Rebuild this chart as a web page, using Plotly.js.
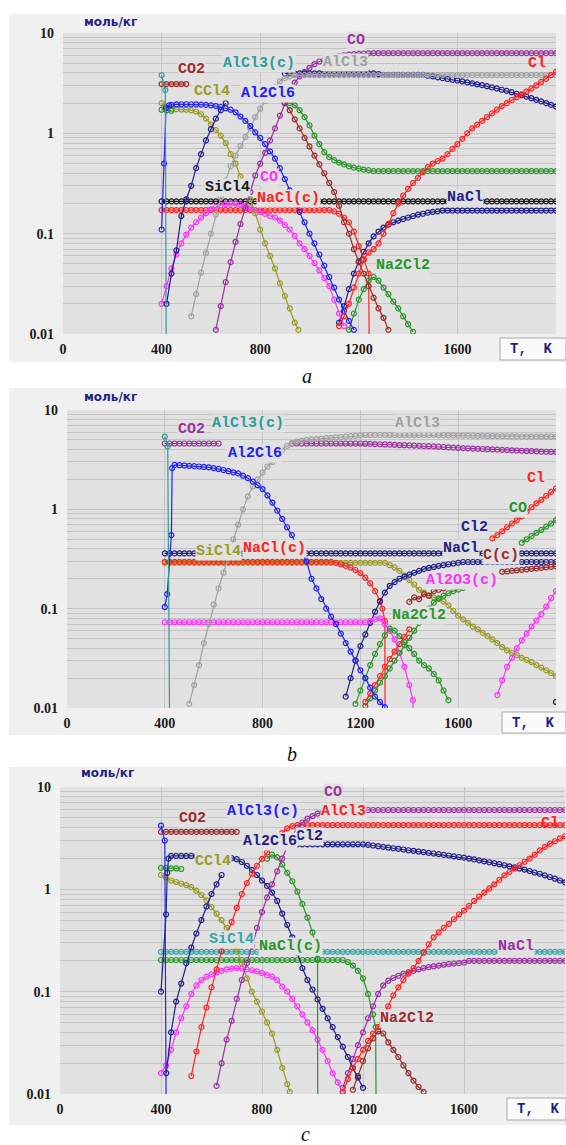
<!DOCTYPE html>
<html><head><meta charset="utf-8">
<script src="https://cdn.plot.ly/plotly-3.0.1.min.js"></script>
<style>html,body{margin:0;padding:0;background:#fff;}#chart{width:566px;height:1145px;}</style>
</head><body><div id="chart"></div>
<script>
// ---------- shared temperature grid (K) and axis ticks ----------
const TG = [400,420,440,460,480,500,520,540,560,580,
600,620,640,660,680,700,720,740,760,780,
800,820,840,860,880,900,920,940,960,980,
1000,1020,1040,1060,1080,1100,1120,1140,1160,1180,
1200,1220,1240,1260,1280,1300,1320,1340,1360,1380,
1400,1420,1440,1460,1480,1500,1520,1540,1560,1580,
1600,1620,1640,1660,1680,1700,1720,1740,1760,1780,
1800,1820,1840,1860,1880,1900,1920,1940,1960,1980,
2000];
const X_TICKS = [0,400,800,1200,1600];
const X_TEXT = ['0','400','800','1200','1600'];
const Y_TICKS = [0.01,0.02,0.03,0.04,0.05,0.06,0.07,0.08,0.09,0.1,0.2,0.3,0.4,0.5,0.6,0.7,0.8,0.9,1,2,3,4,5,6,7,8,9,10];
const Y_TEXT = ['0.01','','','','','','','','','0.1','','','','','','','','','1','','','','','','','','','10'];
const PANEL_TAGS = ['a','b','c'];
const UNIT = 'моль/кг';
const XUNIT = 'T,  K';

// ---------- panel a (mol/kg vs T) ----------
const a_CO2 = [3.1,3.1,3.1,3.1,3.1,3.1];
const a_CO2b = [2.0,1.7,1.38,1.12,0.9,0.74,0.6,0.49,0.4,0.32,0.26,0.19,0.13,0.1,0.07,0.052,0.04,0.03,0.023,0.018,0.0145,0.011];
const a_CO = [0.011,0.019,0.033,0.052,0.083,0.125,0.18,0.26,0.38,0.5,
0.64,0.85,1.12,1.5,2.0,2.6,3.2,3.7,4.1,4.5,
4.9,5.2,5.4,5.6,5.75,5.9,6.0,6.1,6.15,6.2,
6.25,6.27,
6.3,6.3,6.3,6.3,6.3,6.3,6.3,6.3,6.3,6.3,
6.3,6.3,6.3,6.3,6.3,6.3,6.3,6.3,6.3,6.3,
6.3,6.3,6.3,6.3,6.3,6.3,6.3,6.3,6.3,6.3,
6.3,6.3,6.3,6.3,6.3,6.3,6.3,6.3];
const a_Cl2rise = [0.02,0.04,0.068,0.15,0.22,0.3,0.45,0.62,0.85,1.1,1.4,1.7,2.0];
const a_Cl2top = [3.95,3.95,3.95,3.95,3.95,3.95,3.95,3.95,3.95,3.95,
3.95,3.95,3.95,3.95,3.95,3.95,3.95,3.95,3.95,3.9,
3.82,3.82,3.82,3.82,3.82,3.82,3.82,3.82,3.82,
3.75,3.7,3.62,3.55,3.48,3.42,3.36,3.3,3.22,3.15,
3.08,3.02,2.95,2.87,2.8,2.72,2.65,2.57,2.48,2.4,
2.32,2.24,2.16,2.08,2.0,1.92,1.85];
const a_AlCl3 = [0.015,0.025,0.041,0.064,0.1,0.155,0.23,0.34,0.47,0.6,
0.75,0.92,1.12,1.45,1.75,2.1,2.5,2.9,3.3,3.55,3.7,3.78,
3.8,3.8,3.8,3.8,3.8,3.8,3.8,3.8,3.8,3.8,
3.8,3.8,3.8,3.8,3.8,3.8,3.8,3.8,3.8,3.8,
3.8,3.8,3.8,3.8,3.8,3.8,3.8,3.8,3.8,3.8,
3.8,3.8,3.8,3.8,3.8,3.8,3.8,3.8,3.8,3.8,
3.8,3.8,3.8,3.8,3.8,3.8,3.8,3.8,3.8,3.8,
3.8,3.8,3.8];
const a_AlCl3c_pts = [[400,3.8],[415,2.7],[420,0.001]];
const a_Al2Cl6_pre = [[400,0.11],[410,0.5],[418,1.8],[430,1.9]];
const a_Al2Cl6 = [1.92,1.94,1.95,1.95,1.95,1.94,1.93,1.92,1.9,1.87,
1.83,1.78,1.72,1.62,1.47,1.33,1.18,1.02,0.9,0.78,
0.66,0.56,0.45,0.35,0.27,0.21,0.165,0.13,0.1,0.08,
0.062,0.048,0.037,0.029,0.022,0.017,0.0135,0.011];
const a_CCl4_pre = [[400,2.0],[410,1.85]];
const a_CCl4 = [1.78,1.75,1.74,1.73,1.72,1.7,1.65,1.55,1.4,1.22,
1.08,0.95,0.8,0.62,0.5,0.37,0.29,0.22,0.16,0.11,
0.08,0.06,0.045,0.032,0.024,0.018,0.013];
const a_CCl4_post = [[955,0.011]];
const a_greenLow = [1.72,1.7,1.68];
const a_green = [2.0,2.0,1.9,1.7,1.45,1.2,0.95,0.78,0.65,0.58,
0.54,0.51,0.49,0.47,0.455,0.445,0.435,0.43,
0.42,0.42,0.42,0.42,0.42,0.42,0.42,0.42,0.42,0.42,
0.42,0.42,0.42,0.42,0.42,0.42,0.42,0.42,0.42,0.42,
0.42,0.42,0.42,0.42,0.42,0.42,0.42,0.42,0.42,0.42,
0.42,0.42,0.42,0.42,0.42,0.42,0.42,0.42];
const a_SiCl4 = [0.21,0.21,0.21,0.21,0.21,0.21,0.21,0.21,0.21,0.21,
0.21,0.21,0.21,0.21,0.21,0.21,0.21,0.21,0.21,0.21,
0.21,0.21,0.21,0.21,0.21,0.21,0.21,0.21,0.21,0.21,
0.21,0.21,0.21,0.21,0.21,0.21,0.21,0.21,0.21,0.21,
0.21,0.21,0.21,0.21,0.21,0.21,0.21,0.21,0.21,0.21,
0.21,0.21,0.21,0.21,0.21,0.21,0.21,0.21,0.21,0.21,
0.21,0.21,0.21,0.21,0.21,0.21,0.21,0.21,0.21,0.21,
0.21,0.21,0.21,0.21,0.21,0.21,0.21,0.21,0.21,0.21,
0.21];
const a_NaClc = [0.172,0.172,0.172,0.172,0.172,0.172,0.172,0.172,0.172,0.172,
0.172,0.172,0.172,0.172,0.172,0.172,0.172,0.172,0.172,0.172,
0.172,0.172,0.172,0.172,0.172,0.172,0.172,0.172,0.172,0.172,
0.172,0.172,0.172,0.172,0.172,
0.167,0.158,0.145,0.13,0.105,0.075,0.055,0.04];
const a_NaClc_post = [[1245,0.001]];
const a_Cl = [0.012,0.015,0.02,0.029,0.04,0.055,0.065,0.07,0.08,0.1,
0.125,0.16,0.2,0.24,0.28,0.32,0.36,0.41,0.46,0.5,
0.53,0.56,0.62,0.7,0.78,0.88,1.0,1.12,1.22,1.33,
1.45,1.58,1.72,1.87,2.0,2.15,2.3,2.45,2.6,2.8,
3.0,3.25,3.5,3.8,4.1];
const a_NaCl = [0.013,0.019,0.028,0.04,0.053,0.066,0.08,0.094,0.105,0.115,
0.123,0.13,0.135,0.14,0.145,0.15,0.155,0.158,0.162,0.165,0.167,
0.17,0.17,0.17,0.17,0.17,0.17,0.17,0.17,0.17,0.17,
0.17,0.17,0.17,0.17,0.17,0.17,0.17,0.17,0.17,0.17,
0.17,0.17,0.17,0.17];
const a_mag = [0.02,0.03,0.045,0.062,0.08,0.098,0.115,0.13,0.145,0.16,
0.175,0.185,0.192,0.197,0.2,0.2,0.195,0.19,0.18,0.172,
0.165,0.158,0.15,0.145,0.135,0.122,0.11,0.095,0.08,0.07,
0.06,0.051,0.043,0.036,0.03,0.022,0.016,0.012];
const a_Na2Cl2 = [0.011,0.016,0.022,0.028,0.034,0.037,0.034,0.029,0.025,0.021,0.018,0.015,0.0125,0.0105];

// ---------- panel b ----------
const b_CO2 = [4.6,4.6,4.6,4.6,4.6,4.6,4.6,4.6,4.6,4.6,4.6,4.6];
const b_CO2b = [4.6,4.6,4.6,4.6,4.6,4.6,4.6,4.6,4.6,4.6,4.6,4.6,4.6,4.6,4.6,
4.58,4.56,4.54,4.52,4.5,4.48,4.46,4.44,4.42,4.4,
4.38,4.36,4.34,4.32,4.3,4.27,4.24,4.21,4.18,4.15,
4.13,4.11,4.09,4.07,4.05,4.03,4.01,3.99,3.97,3.95,
3.93,3.91,3.89,3.87,3.85,3.83,3.81,3.8,3.79,3.78];
const b_AlCl3c_pts = [[400,5.4],[412,4.3],[422,0.001]];
const b_AlCl3 = [0.011,0.017,0.027,0.045,0.07,0.11,0.16,0.23,0.34,0.5,
0.7,1.0,1.35,1.7,2.0,2.35,2.7,3.0,3.4,3.95,
4.35,4.65,4.8,4.9,5.0,5.05,5.1,5.15,5.2,5.25,
5.3,5.35,5.4,5.45,5.5,5.55,
5.6,5.6,5.6,5.6,5.6,5.6,5.6,5.6,5.6,5.6,5.6,5.6,5.6,5.6,5.6,
5.58,5.57,5.56,5.55,5.54,5.53,5.52,5.51,5.5,5.49,
5.48,5.47,5.46,5.45,5.44,5.43,5.42,5.41,5.41,5.4,
5.4,5.4,5.4,5.4,5.4];
const b_Al2Cl6_pre = [[400,0.104],[410,0.14],[427,0.55],[430,2.6]];
const b_Al2Cl6 = [2.8,2.78,2.76,2.74,2.72,2.7,2.67,2.65,2.6,2.55,
2.49,2.42,2.36,2.3,2.18,2.06,1.9,1.75,1.6,1.38,
1.17,0.97,0.8,0.66,0.55,0.45,0.37,0.3,0.2,0.16,
0.125,0.1,0.083,0.07,0.056,0.045,0.037,0.03,0.024,0.02,
0.016,0.013,0.0115,0.0102];
const b_NaClFlat = [0.36,0.36,0.36,0.36,0.36,0.36,0.36,0.36,0.36,0.36,
0.36,0.36,0.36,0.36,0.36,0.36,0.36,0.36,0.36,0.36,
0.36,0.36,0.36,0.36,0.36,0.36,0.36,0.36,0.36,0.36,
0.36,0.36,0.36,0.36,0.36,0.36,0.36,0.36,0.36,0.36,
0.36,0.36,0.36,0.36,0.36,0.36,0.36,0.36,0.36,0.36,
0.36,0.36,0.36,0.36,0.36,0.36,0.36,0.36,0.36,0.36,
0.36,0.36,0.36,0.36,0.36,0.36,0.36,0.36,0.36,0.36,
0.36,0.36,0.36,0.36,0.36,0.36,0.36,0.36,0.36,0.36,
0.36];
const b_NaCl = [0.013,0.02,0.03,0.042,0.055,0.072,0.093,0.118,0.145,0.17,
0.185,0.2,0.21,0.22,0.23,0.24,0.25,0.257,0.263,0.27,
0.275,0.28,0.285,0.29,
0.295,0.295,0.295,0.295,0.295,0.295,0.295,0.295,0.295,0.295,
0.295,0.295,0.295,0.295,0.295,0.295,0.295,0.295,0.295,0.295];
const b_NaClc = [0.296,0.296,0.296,0.296,0.296,0.296,0.296,0.296,0.296,0.296,
0.296,0.296,0.296,0.296,0.296,0.296,0.296,0.296,0.296,0.296,
0.296,0.296,0.296,0.296,0.296,0.296,0.296,0.296,0.296,0.296,
0.296,0.296,0.296,0.296,0.296,
0.29,0.28,0.27,0.26,0.245,0.228,0.205,0.18,0.15,0.12];
const b_NaClc_post = [[1290,0.1],[1300,0.075],[1302,0.001]];
const b_SiCl4 = [0.289,0.289,0.289,0.289,0.289,0.289,0.289,0.289,0.289,0.289,
0.289,0.289,0.289,0.289,0.289,0.289,0.289,0.289,0.289,0.289,
0.289,0.289,0.289,0.289,0.289,0.289,0.289,0.289,0.289,0.289,
0.289,0.289,0.289,0.289,0.289,0.289,0.289,0.289,0.289,0.289,
0.289,0.289,0.289,0.289,0.289,0.289,
0.275,0.26,0.24,0.215,0.195,0.175,0.155,0.145,0.135,0.13,
0.125,0.118,0.108,0.095,0.085,0.078,0.072,0.066,0.062,0.057,
0.053,0.049,0.045,0.041,0.038,0.036,0.034,0.032,0.0305,0.029,
0.027,0.0255,0.024,0.0225,0.021];
const b_Al2O3c = [0.073,0.073,0.073,0.073,0.073,0.073,0.073,0.073,0.073,0.073,
0.073,0.073,0.073,0.073,0.073,0.073,0.073,0.073,0.073,0.073,
0.073,0.073,0.073,0.073,0.073,0.073,0.073,0.073,0.073,0.073,
0.073,0.073,0.073,0.073,0.073,0.073,0.073,0.073,0.073,0.073,
0.073,0.073,
0.075,0.078,0.08,0.07,0.06,0.049,0.036,0.026,0.017];
const b_Al2O3c_post = [[1415,0.012],[1420,0.001]];
const b_Al2O3c2 = [0.0135,0.019,0.026,0.032,0.04,0.048,0.056,0.066,0.076,0.088,0.105,0.128,0.15];
const b_Cl_low = [0.0115,0.014,0.017,0.021,0.026,0.031,0.037,0.044,0.052,0.062];
const b_Cl_high = [0.51,0.55,0.6,0.66,0.72,0.78,0.85,0.95,1.05,1.15,1.25,1.37,1.5,1.62];
const b_C_low = [0.117,0.13,0.125,0.14,0.135,0.15,0.155,0.16];
const b_C_high = [0.235,0.237,0.24,0.243,0.246,0.249,0.252,0.255,0.258,0.261,0.264,0.267];
const b_CO_low = [0.0105,0.0125,0.015,0.018,0.021,0.025,0.03,0.036,0.043,0.051,
0.06,0.072,0.086,0.1,0.115,0.127,0.135,0.143,0.15,0.156,0.162];
const b_CO_high = [0.46,0.5,0.54,0.58,0.62,0.67,0.72,0.78];
const b_Na2Cl2 = [0.011,0.015,0.02,0.027,0.035,0.044,0.054,0.063,0.06,0.053,
0.046,0.04,0.035,0.03,0.027,0.025,0.022,0.019,0.015,0.012];
const b_end_pts = [[2000,0.0115]];

// ---------- panel c ----------
const c_AlCl3c_pts = [[400,4.2],[415,3.0],[422,0.001]];
const c_CO2 = [3.65,3.65,3.65,3.65,3.65,3.65,3.65,3.65,3.65,3.65,3.65,3.65,3.65,3.65,3.65,3.65];
const c_Al2Cl6_pre = [[400,0.1],[420,0.57],[425,1.45],[430,2.0]];
const c_Al2Cl6 = [2.12,2.12,2.12,2.12,2.12,2.12,2.12,2.12,2.12,2.12,2.12,
2.08,2.02,1.97,1.85,1.7,1.55,1.38,1.22,1.08,0.93,
0.77,0.58,0.45,0.34,0.24,0.17,0.13,0.105,0.084,0.068,
0.055,0.045,0.036,0.029,0.023,0.018,0.0145,0.0115];
const c_Cl2_pre = [[421,0.016]];
const c_Cl2rise = [0.04,0.08,0.12,0.19,0.27,0.37,0.5,0.68,0.9,1.12,1.38];
const c_Cl2top = [2.75,2.75,2.75,2.75,2.75,2.75,2.75,2.75,2.75,2.75,2.75,2.75,2.75,2.75,2.75,
2.72,2.68,2.64,2.6,2.56,2.52,2.49,2.45,2.41,2.38,
2.34,2.31,2.27,2.24,2.21,2.17,2.14,2.1,2.07,2.04,
2.0,1.96,1.92,1.88,1.84,1.8,1.76,1.72,1.68,1.64,
1.6,1.56,1.51,1.46,1.42,1.37,1.32,1.27,1.22,1.17];
const c_AlCl3 = [0.015,0.026,0.045,0.07,0.11,0.165,0.25,0.36,0.48,0.66,
0.9,1.15,1.42,1.7,1.98,2.3,2.7,3.1,3.55,3.95,4.15,
4.25,4.25,4.25,4.25,4.25,4.25,4.25,4.25,4.25,4.25,
4.25,4.25,4.25,4.25,4.25,4.25,4.25,4.25,4.25,4.25,
4.25,4.25,4.25,4.25,4.25,4.25,4.25,4.25,4.25,4.25,
4.25,4.25,4.25,4.25,4.25,4.25,4.25,4.25,4.25,4.25,
4.25,4.25,4.25,4.25,4.25,4.25,4.25,4.25,4.25,4.25,
4.25,4.25,4.25,4.25];
const c_Cl = [0.0105,0.014,0.018,0.022,0.027,0.033,0.039,0.045,0.06,0.072,
0.092,0.11,0.13,0.15,0.17,0.2,0.24,0.29,0.34,0.38,
0.42,0.46,0.51,0.57,0.62,0.69,0.77,0.85,0.93,1.02,
1.12,1.24,1.37,1.48,1.6,1.72,1.86,2.0,2.18,2.4,
2.6,2.78,2.95,3.15,3.3];
const c_CO = [0.012,0.02,0.034,0.052,0.085,0.13,0.19,0.28,0.42,0.6,
0.83,1.12,1.5,2.0,2.6,3.3,4.0,4.5,4.9,5.2,
5.5,5.7,5.85,
5.96,5.96,5.96,5.96,5.96,5.96,5.96,5.96,5.96,5.96,
5.96,5.96,5.96,5.96,5.96,5.96,5.96,5.96,5.96,5.96,
5.96,5.96,5.96,5.96,5.96,5.96,5.96,5.96,5.96,5.96,
5.96,5.96,5.96,5.96,5.96,5.96,5.96,5.96,5.96,5.96,
5.96,5.96,5.96,5.96,5.96,5.96,5.96];
const c_greenPeak = [2.0,2.18,2.05,1.75,1.45,1.2,0.95,0.72,0.53,0.38];
const c_greenPeak_post = [[1010,0.3],[1020,0.21],[1021,0.001]];
const c_greenLow = [1.62,1.62,1.6,1.6,1.58];
const c_CCl4 = [1.38,1.3,1.22,1.18,1.14,1.1,1.05,0.97,0.88,0.78,
0.67,0.58,0.5,0.42,0.34,0.26,0.19,0.135,0.1,0.08,
0.064,0.05,0.039,0.027,0.018,0.0125];
const c_CCl4_post = [[910,0.0105]];
const c_SiCl4 = [0.245,0.245,0.245,0.245,0.245,0.245,0.245,0.245,0.245,0.245,
0.245,0.245,0.245,0.245,0.245,0.245,0.245,0.245,0.245,0.245,
0.245,0.245,0.245,0.245,0.245,0.245,0.245,0.245,0.245,0.245,
0.245,0.245,0.245,0.245,0.245,0.245,0.245,0.245,0.245,0.245,
0.245,0.245,0.245,0.245,0.245,0.245,0.245,0.245,0.245,0.245,
0.245,0.245,0.245,0.245,0.245,0.245,0.245,0.245,0.245,0.245,
0.245,0.245,0.245,0.245,0.245,0.245,0.245,0.245,0.245,0.245,
0.245,0.245,0.245,0.245,0.245,0.245,0.245,0.245,0.245,0.245,
0.245];
const c_NaClc = [0.204,0.204,0.204,0.204,0.204,0.204,0.204,0.204,0.204,0.204,
0.204,0.204,0.204,0.204,0.204,0.204,0.204,0.204,0.204,0.204,
0.204,0.204,0.204,0.204,0.204,0.204,0.204,0.204,0.204,0.204,
0.204,0.204,0.204,0.204,0.204,0.204,0.204,
0.195,0.18,0.16,0.135,0.095,0.06];
const c_NaClc_post = [[1250,0.045],[1254,0.001]];
const c_NaCl = [0.0115,0.016,0.022,0.03,0.04,0.055,0.072,0.095,0.115,0.128,
0.136,0.143,0.15,0.155,0.16,0.165,0.17,0.174,0.177,0.18,
0.183,0.186,0.188,0.19,0.192,
0.2,0.2,0.2,0.2,0.2,0.2,0.2,0.2,0.2,0.2,
0.2,0.2,0.2,0.2,0.2,0.2,0.2,0.2,0.2,0.2];
const c_mag = [0.016,0.019,0.027,0.04,0.055,0.072,0.095,0.115,0.13,0.14,
0.148,0.155,0.16,0.165,0.168,0.17,0.168,0.165,0.162,0.158,
0.152,0.145,0.14,0.13,0.112,0.1,0.085,0.072,0.06,0.05,
0.042,0.034,0.027,0.021,0.016,0.013,0.0105];
const c_Na2Cl2 = [0.011,0.015,0.021,0.028,0.035,0.041,0.039,0.032,0.027,0.023,0.019,0.016,0.0135,0.0117,0.0105];

// ---------- styling ----------
const COL = {
  maroon:'#9c2b2b', teal:'#2e9c9c', gray:'#a0a0a0', purple:'#9b2fa0', navy:'#1f1f88',
  blue:'#2222f2', olive:'#9a9a26', green:'#2a952a', red:'#ff2222', magenta:'#ff30ff',
  black:'#1a1a1a', teal2:'#36a6a6'
};
const PLOT_BG = '#e1e1e1', FRAME_BG = '#f0f0f0', GRID = '#c4c4c4';
const W = 566, H = 1145;

function from(t0, n){ if(!n) return []; const i = TG.indexOf(t0); return TG.slice(i, i+n); }
function ser(t0, vals, pre, post){
  pre = pre || []; post = post || []; vals = vals || [];
  return { x: pre.map(p=>p[0]).concat(from(t0, vals.length), post.map(p=>p[0])),
           y: pre.map(p=>p[1]).concat(vals, post.map(p=>p[1])) };
}
const traces = [];
function add(ax, s, color){
  traces.push({type:'scatter', mode:'lines+markers', x:s.x, y:s.y, xaxis:'x'+ax, yaxis:'y'+ax,
    line:{color:color, width:1.2},
    marker:{symbol:'circle-open', size:5, color:color, line:{color:color, width:1.2}},
    hoverinfo:'skip', showlegend:false});
}

// panel a traces
add('', ser(400, a_SiCl4), COL.black);
add('', ser(1120, a_NaCl), COL.navy);
add('', ser(400, a_NaClc, null, a_NaClc_post), COL.red);
add('', ser(400, a_mag), COL.magenta);
add('', ser(420, a_CCl4, a_CCl4_pre, a_CCl4_post), COL.olive);
add('', ser(400, a_greenLow), COL.green);
add('', ser(900, a_green), COL.green);
add('', ser(1160, a_Na2Cl2), COL.green);
add('', ser(400, a_CO2), COL.maroon);
add('', ser(900, a_CO2b), COL.maroon);
add('', ser(620, a_CO), COL.purple);
add('', ser(420, a_Cl2rise), COL.navy);
add('', ser(900, a_Cl2top), COL.navy);
add('', ser(520, a_AlCl3), COL.gray);
add('', ser(440, a_Al2Cl6, a_Al2Cl6_pre), COL.blue);
add('', ser(1120, a_Cl), COL.red);
add('', ser(0, [], a_AlCl3c_pts), COL.teal);

// panel b traces
add('2', ser(400, b_SiCl4), COL.olive);
add('2', ser(400, b_NaClc, null, b_NaClc_post), COL.red);
add('2', ser(400, b_NaClFlat), COL.navy);
add('2', ser(1140, b_NaCl), COL.navy);
add('2', ser(400, b_Al2O3c, null, b_Al2O3c_post), COL.magenta);
add('2', ser(1760, b_Al2O3c2), COL.magenta);
add('2', ser(1400, b_C_low), COL.maroon);
add('2', ser(1780, b_C_high), COL.maroon);
add('2', ser(1220, b_CO_low), COL.green);
add('2', ser(1860, b_CO_high), COL.green);
add('2', ser(1180, b_Na2Cl2), COL.green);
add('2', ser(1220, b_Cl_low), COL.red);
add('2', ser(1740, b_Cl_high), COL.red);
add('2', ser(400, b_CO2), COL.purple);
add('2', ser(920, b_CO2b), COL.purple);
add('2', ser(500, b_AlCl3), COL.gray);
add('2', ser(440, b_Al2Cl6, b_Al2Cl6_pre), COL.blue);
add('2', ser(0, [], b_AlCl3c_pts), COL.teal);
add('2', ser(0, [], b_end_pts), COL.black);

// panel c traces
add('3', ser(400, c_SiCl4), COL.teal2);
add('3', ser(400, c_NaClc, null, c_NaClc_post), COL.green);
add('3', ser(1120, c_NaCl), COL.purple);
add('3', ser(400, c_mag), COL.magenta);
add('3', ser(400, c_CCl4, null, c_CCl4_post), COL.olive);
add('3', ser(400, c_greenLow), COL.green);
add('3', ser(820, c_greenPeak, null, c_greenPeak_post), COL.green);
add('3', ser(1160, c_Na2Cl2), COL.maroon);
add('3', ser(400, c_CO2), COL.maroon);
add('3', ser(440, c_Cl2rise, c_Cl2_pre), COL.navy);
add('3', ser(920, c_Cl2top), COL.navy);
add('3', ser(440, c_Al2Cl6, c_Al2Cl6_pre), COL.navy);
add('3', ser(520, c_AlCl3), COL.red);
add('3', ser(1120, c_Cl), COL.red);
add('3', ser(620, c_CO), COL.purple);
add('3', ser(0, [], c_AlCl3c_pts), COL.blue);

// ---------- curve labels: [text, T, value, colour, opaque] ----------
const a_labels = [
 ['CO',1190,8.5,COL.purple,1],['CO2',523,4.3,COL.maroon,1],['AlCl3(c)',794,5.0,COL.teal,1],
 ['AlCl3',1146,5.1,COL.gray,1],['Cl',1922,5.0,COL.red,0],['CCl4',604,2.6,COL.olive,1],
 ['Al2Cl6',831,2.5,COL.blue,1],['SiCl4',667,0.29,COL.black,1],['CO',835,0.36,COL.magenta,1],
 ['NaCl(c)',915,0.225,COL.red,1],['NaCl',1629,0.23,COL.navy,1],['Na2Cl2',1380,0.048,COL.green,1]
];
const b_labels = [
 ['CO2',508,6.3,COL.purple,1],['AlCl3(c)',740,7.35,COL.teal,1],['AlCl3',1432,7.35,COL.gray,1],
 ['Al2Cl6',770,3.66,COL.blue,1],['Cl',1920,2.05,COL.red,1],['CO',1843,1.02,COL.green,1],
 ['Cl2',1666,0.66,COL.navy,1],['SiCl4',618,0.374,COL.olive,1],['NaCl(c)',850,0.4,COL.red,1],
 ['C(c)',1775,0.34,COL.maroon,1],['NaCl',1612,0.405,COL.navy,1],['Al2O3(c)',1614,0.194,COL.magenta,1],
 ['Na2Cl2',1440,0.086,COL.green,1]
];
const c_labels = [
 ['CO',1083,8.74,COL.purple,1],['AlCl3',1122,5.7,COL.red,1],['CO2',526,4.94,COL.maroon,1],
 ['AlCl3(c)',804,5.74,COL.blue,1],['Cl2',990,3.32,COL.navy,1],['Al2Cl6',832,2.92,COL.navy,1],
 ['CCl4',604,1.86,COL.olive,1],['SiCl4',679,0.32,COL.teal2,1],['NaCl(c)',911,0.275,COL.green,1],
 ['NaCl',1804,0.275,COL.purple,1],['Cl',1940,4.42,COL.red,0],['Na2Cl2',1376,0.0548,COL.maroon,1]
];

// ---------- layout ----------
const panels = [
  {ax:'', px:[63,556], py:[33,334], frame:[9,14,566,362], tk:[500,338,566,360], unit:[110,22], tag:[307,376], labels:a_labels},
  {ax:'2', px:[67,556], py:[410,708], frame:[9,388,566,735], tk:[502,712,566,733], unit:[110,397], tag:[292,754], labels:b_labels},
  {ax:'3', px:[60,565], py:[787,1094], frame:[9,767,566,1125], tk:[507,1098,566,1120], unit:[107,773], tag:[305,1134], labels:c_labels}
];
const layout = {width:W, height:H, margin:{l:0,r:0,t:0,b:0}, paper_bgcolor:'#ffffff',
  plot_bgcolor:'rgba(0,0,0,0)', showlegend:false, shapes:[], annotations:[]};
const fx = v => v / W, fy = v => 1 - v / H;
const TICKFONT = {family:'Liberation Serif', size:14, color:'#1a1a1a', weight:'bold'};

panels.forEach((p, i) => {
  layout['xaxis'+p.ax] = {domain:[fx(p.px[0]), fx(p.px[1])], anchor:'y'+p.ax, range:[0,2000],
    tickvals:X_TICKS, ticktext:X_TEXT, showgrid:true, gridcolor:GRID, gridwidth:1,
    zeroline:false, showline:false, ticks:'', ticklabelstandoff:5,
    tickfont:TICKFONT, fixedrange:true};
  layout['yaxis'+p.ax] = {domain:[fy(p.py[1]), fy(p.py[0])], anchor:'x'+p.ax, type:'log', range:[-2,1],
    tickvals:Y_TICKS, ticktext:Y_TEXT, showgrid:true, gridcolor:GRID, gridwidth:1,
    zeroline:false, showline:false, ticks:'', ticklabelstandoff:8,
    tickfont:TICKFONT, fixedrange:true};
  const f = p.frame;
  layout.shapes.push({type:'rect', xref:'paper', yref:'paper', layer:'below',
    x0:fx(f[0]), x1:fx(f[2]), y0:fy(f[3]), y1:fy(f[1]), line:{width:0}, fillcolor:FRAME_BG});
  layout.shapes.push({type:'rect', xref:'paper', yref:'paper', layer:'below',
    x0:fx(p.px[0]), x1:fx(p.px[1]), y0:fy(p.py[1]), y1:fy(p.py[0]), line:{width:0}, fillcolor:PLOT_BG});
  const t = p.tk;
  layout.shapes.push({type:'rect', xref:'paper', yref:'paper', layer:'above',
    x0:fx(t[0]), x1:fx(t[2]), y0:fy(t[3]), y1:fy(t[1]), line:{width:1, color:'#a8a8a8'}, fillcolor:'#fbfbfb'});
  layout.annotations.push({xref:'paper', yref:'paper', x:fx(t[0]+8), y:fy((t[1]+t[3])/2), xanchor:'left', yanchor:'middle',
    text:XUNIT, showarrow:false, font:{family:'Liberation Mono', size:14, color:COL.navy, weight:'bold'}});
  layout.annotations.push({xref:'paper', yref:'paper', x:fx(p.unit[0]), y:fy(p.unit[1]), xanchor:'center', yanchor:'middle',
    text:'<b>'+UNIT+'</b>', showarrow:false, font:{family:'DejaVu Sans', size:12, color:COL.navy}});
  layout.annotations.push({xref:'paper', yref:'paper', x:fx(p.tag[0]), y:fy(p.tag[1]), xanchor:'center', yanchor:'middle',
    text:'<i>'+PANEL_TAGS[i]+'</i>', showarrow:false, font:{family:'Liberation Serif', size:20, color:'#111'}});
  p.labels.forEach(L => {
    layout.annotations.push({xref:'x'+p.ax, yref:'y'+p.ax, x:L[1], y:Math.log10(L[2]),
      xanchor:'center', yanchor:'middle', text:L[0], showarrow:false, borderpad:0,
      bgcolor: L[4] ? PLOT_BG : 'rgba(0,0,0,0)',
      font:{family:'Liberation Mono', size:15, color:L[3], weight:'bold'}});
  });
});

Plotly.newPlot('chart', traces, layout, {staticPlot:true, displayModeBar:false});
</script></body></html>
